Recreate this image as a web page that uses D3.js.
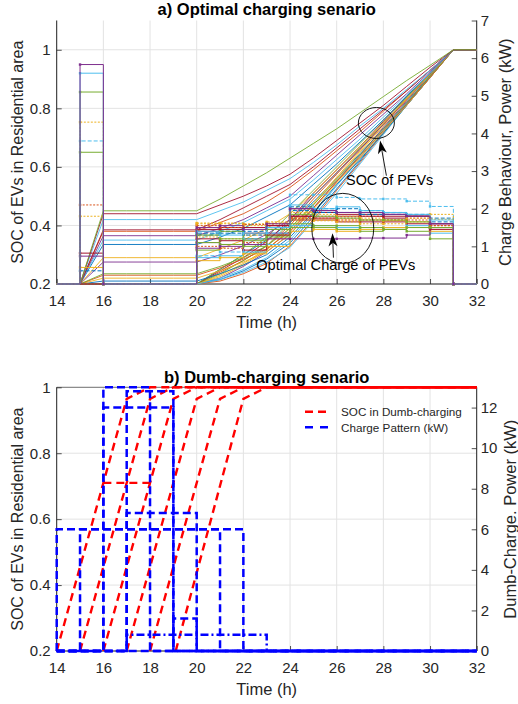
<!DOCTYPE html>
<html><head><meta charset="utf-8">
<script src="https://cdn.jsdelivr.net/npm/d3@7"></script>
<style>
body{margin:0;background:#fff;}
svg{display:block;font-family:"Liberation Sans",Arial,Helvetica,sans-serif;}
</style>
</head><body>
<svg id="c" width="518" height="704"></svg>
<script>
// ---------------- DATA ----------------
const hours = [14,15,16,17,18,19,20,21,22,23,24,25,26,27,28,29,30,31,32];
const xTicks = [14,16,18,20,22,24,26,28,30,32];
const socTicks1 = [0.2,0.4,0.6,0.8,1];
const powTicks1 = [0,1,2,3,4,5,6,7];
const socTicks2 = [0.2,0.4,0.6,0.8,1];
const powTicks2 = [0,2,4,6,8,10,12];

// a) optimal charging: SOC of EVs charged 15-16h
const socEarly = [
 [0.2,0.2,0.45,0.45,0.45,0.45,0.45,0.49,0.535,0.58,0.63,0.68,0.73,0.785,0.84,0.895,0.947,1,1],
 [0.2,0.2,0.44,0.44,0.44,0.44,0.44,0.47,0.5,0.535,0.575,0.63,0.69,0.75,0.81,0.875,0.94,1,1],
 [0.2,0.2,0.42,0.42,0.42,0.42,0.42,0.45,0.48,0.52,0.56,0.615,0.675,0.74,0.8,0.865,0.93,1,1],
 [0.2,0.2,0.385,0.385,0.385,0.385,0.385,0.42,0.46,0.5,0.54,0.6,0.665,0.73,0.795,0.86,0.93,1,1],
 [0.2,0.2,0.38,0.38,0.38,0.38,0.38,0.41,0.44,0.48,0.53,0.59,0.655,0.72,0.79,0.86,0.93,1,1],
 [0.2,0.2,0.365,0.365,0.365,0.365,0.365,0.39,0.42,0.46,0.5,0.57,0.64,0.71,0.78,0.85,0.925,1,1],
 [0.2,0.2,0.35,0.35,0.35,0.35,0.35,0.38,0.41,0.45,0.49,0.555,0.625,0.695,0.77,0.845,0.92,1,1],
 [0.2,0.2,0.335,0.335,0.335,0.335,0.335,0.36,0.39,0.43,0.47,0.54,0.61,0.685,0.76,0.84,0.92,1,1],
 [0.2,0.2,0.29,0.29,0.29,0.29,0.29,0.32,0.35,0.39,0.44,0.51,0.59,0.67,0.75,0.83,0.915,1,1],
 [0.2,0.2,0.275,0.275,0.275,0.275,0.275,0.3,0.33,0.37,0.42,0.5,0.58,0.66,0.745,0.83,0.915,1,1],
 [0.2,0.2,0.235,0.235,0.235,0.235,0.235,0.26,0.29,0.33,0.39,0.47,0.555,0.64,0.73,0.82,0.91,1,1],
 [0.2,0.2,0.23,0.23,0.23,0.23,0.23,0.255,0.285,0.32,0.38,0.46,0.55,0.635,0.725,0.815,0.905,1,1],
 [0.2,0.2,0.22,0.22,0.22,0.22,0.22,0.245,0.275,0.31,0.37,0.455,0.545,0.63,0.72,0.81,0.905,1,1],
 [0.2,0.2,0.21,0.21,0.21,0.21,0.21,0.235,0.265,0.3,0.36,0.445,0.54,0.625,0.715,0.81,0.905,1,1]
];
const socEarlyColors = ["#77AC30","#A2142F","#4DBEEE","#A2142F","#D95319","#7E2F8E","#4DBEEE","#0072BD","#EDB120","#7E2F8E","#77AC30","#D95319","#EDB120","#0072BD"];
// a) optimal charging: SOC of EVs starting at 20h
const socLate = [
 [0.2,0.2,0.2,0.2,0.2,0.2,0.2,0.25,0.3,0.35,0.41,0.48,0.56,0.645,0.73,0.82,0.91,1,1],
 [0.2,0.2,0.2,0.2,0.2,0.2,0.2,0.24,0.28,0.33,0.4,0.49,0.575,0.66,0.745,0.83,0.915,1,1],
 [0.2,0.2,0.2,0.2,0.2,0.2,0.2,0.23,0.27,0.32,0.38,0.47,0.56,0.65,0.74,0.83,0.915,1,1],
 [0.2,0.2,0.2,0.2,0.2,0.2,0.2,0.22,0.26,0.31,0.37,0.46,0.55,0.64,0.735,0.825,0.915,1,1],
 [0.2,0.2,0.2,0.2,0.2,0.2,0.2,0.235,0.28,0.33,0.41,0.5,0.58,0.665,0.75,0.835,0.92,1,1],
 [0.2,0.2,0.2,0.2,0.2,0.2,0.2,0.22,0.25,0.29,0.35,0.44,0.535,0.63,0.725,0.82,0.91,1,1],
 [0.2,0.2,0.2,0.2,0.2,0.2,0.2,0.245,0.29,0.345,0.42,0.51,0.59,0.67,0.755,0.84,0.92,1,1],
 [0.2,0.2,0.2,0.2,0.2,0.2,0.2,0.215,0.245,0.285,0.34,0.43,0.525,0.62,0.72,0.815,0.91,1,1],
 [0.2,0.2,0.2,0.2,0.2,0.2,0.2,0.21,0.235,0.27,0.33,0.42,0.52,0.615,0.715,0.81,0.905,1,1],
 [0.2,0.2,0.2,0.2,0.2,0.2,0.2,0.225,0.265,0.315,0.39,0.475,0.565,0.655,0.745,0.835,0.92,1,1],
 [0.2,0.2,0.2,0.2,0.2,0.2,0.2,0.25,0.3,0.36,0.44,0.52,0.6,0.68,0.76,0.84,0.92,1,1],
 [0.2,0.2,0.2,0.2,0.2,0.2,0.2,0.215,0.24,0.275,0.325,0.415,0.51,0.61,0.71,0.81,0.905,1,1]
];
const socLateColors = ["#0072BD","#D95319","#EDB120","#7E2F8E","#77AC30","#4DBEEE","#A2142F","#0072BD","#D95319","#EDB120","#77AC30","#4DBEEE"];
// a) optimal charge power (kW), value held from each hour to the next
const powOpt = [
 [0,5.83,0,0,0,0,1.5,1.55,1.45,1.6,2.0,1.95,1.9,1.9,1.85,1.8,1.6,0,0],
 [0,5.6,0,0,0,0,1.4,1.3,1.35,1.5,2.1,2.0,2.05,1.95,1.9,1.85,1.7,0,0],
 [0,5.1,0,0,0,0,1.1,1.2,1.0,1.25,1.85,1.8,1.75,1.7,1.7,1.65,1.5,0,0],
 [0,4.3,0,0,0,0,1.62,1.6,1.55,1.65,1.9,1.85,1.8,1.75,1.7,1.75,1.85,0,0],
 [0,3.8,0,0,0,0,0.75,0.85,1.2,1.35,2.37,2.37,2.3,2.26,2.26,2.2,2.06,0,0],
 [0,3.5,0,0,0,0,1.3,1.4,1.2,1.45,1.6,1.55,1.55,1.5,1.45,1.5,1.5,0,0],
 [0,2.1,0,0,0,0,1.55,1.5,1.58,1.6,1.75,1.75,1.7,1.7,1.7,1.7,1.55,0,0],
 [0,1.8,0,0,0,0,1.6,1.62,1.6,1.62,1.7,1.68,1.7,1.7,1.68,1.65,1.72,0,0],
 [0,0.82,0,0,0,0,1.2,1.15,0.9,1.3,1.8,1.75,1.8,1.8,1.75,1.8,1.45,0,0],
 [0,0.74,0,0,0,0,0.95,1.0,1.05,1.2,1.2,1.2,1.2,1.22,1.22,1.3,1.5,0,0],
 [0,0.44,0,0,0,0,0.62,0.7,0.8,1.0,1.4,1.45,1.4,1.45,1.5,1.5,1.4,0,0],
 [0,0.35,0,0,0,0,1.3,1.35,1.4,1.5,1.95,1.9,1.9,1.85,1.85,1.8,1.65,0,0],
 [0,0,0,0,0,0,1.45,1.5,1.35,1.55,1.8,1.9,1.85,1.85,1.8,1.8,1.6,0,0],
 [0,0,0,0,0,0,1.0,0.95,1.1,1.2,1.75,1.8,1.75,1.8,1.7,1.75,1.55,0,0],
 [0,0,0,0,0,0,0.9,1.05,1.15,1.3,1.5,1.5,1.45,1.4,1.45,1.4,1.2,0,0],
 [0,0,0,0,0,0,0.7,0.75,0.85,1.05,1.55,1.55,1.5,1.5,1.5,1.55,1.35,0,0],
 [0,0,0,0,0,0,1.35,1.4,1.3,1.45,2.05,2.0,2.0,1.95,1.9,1.85,1.75,0,0],
 [0,0,0,0,0,0,1.1,1.05,1.2,1.35,2.0,1.95,1.9,1.9,1.85,1.8,1.6,0,0],
 [0,0,0,0,0,0,1.25,1.2,1.3,1.45,1.75,1.7,1.65,1.6,1.6,1.65,1.5,0,0],
 [0,0,0,0,0,0,1.4,1.45,1.5,1.55,1.7,1.7,1.65,1.65,1.65,1.6,1.5,0,0]
];
const powColors = ["#7E2F8E","#4DBEEE","#77AC30","#EDB120","#4DBEEE","#77AC30","#D95319","#EDB120","#A2142F","#7E2F8E","#EDB120","#0072BD","#A2142F","#D95319","#77AC30","#4DBEEE","#0072BD","#7E2F8E","#EDB120","#A2142F"];
const powDash = ["","","","2,1.5","4,2","","2,1.5","2,1.5","","","","4,2","","2,1.5","","","4,2","","2,1.5",""];

// b) dumb charging: SOC polylines [hour, soc]
const socDumb = [
 [[14,0.2],[17,0.965],[18,1],[32,1]],
 [[15,0.2],[18,0.965],[19,1],[32,1]],
 [[16,0.2],[19,0.965],[20,1],[32,1]],
 [[17,0.2],[20,0.965],[21,1],[32,1]],
 [[18,0.2],[21,0.965],[22,1],[32,1]],
 [[19.1,0.2],[22,0.965],[23,1],[32,1]],
 [[16,0.71],[18,0.71]]
];
// b) dumb charge pattern (kW) per hour 14..32
const powDumb = [
 [6,6,6,6,6,6,6,6,0,0,0,0,0,0,0,0,0,0,0],
 [0,6,6,6,6,6,6,0,0,0,0,0,0,0,0,0,0,0,0],
 [0,0,13,13,0,0,0,0,0,0,0,0,0,0,0,0,0,0,0],
 [0,0,12,12,12,0,0,0,0,0,0,0,0,0,0,0,0,0,0],
 [0,0,0,12.8,12.8,0,0,0,0,0,0,0,0,0,0,0,0,0,0],
 [0,0,0,6.8,6.8,6.8,0,0,0,0,0,0,0,0,0,0,0,0,0],
 [0,0,0,0.8,0.8,0.8,0.8,0.8,0.8,0,0,0,0,0,0,0,0,0,0],
 [0,0,0,0,0,1.6,0,0,0,0,0,0,0,0,0,0,0,0,0]
];
const powDumbDash = ["8,4","8,4","8,4","8,4","8,4","8,4","8,3,2,3","8,4"];

// ---------------- DRAW ----------------
const svg = d3.select("#c");
const X0 = 56.7, X1 = 476.7;
const AX = "#262626", GRID = "#e3e3e3";
const x = d3.scaleLinear([14,32],[X0,X1]);

function frame(top, bottom, yL, lTicks, title, titleY, rLabel, rLabelX){
  const g = svg.append("g");
  g.selectAll(null).data(xTicks).join("line")
    .attr("x1",d=>x(d)).attr("x2",d=>x(d)).attr("y1",top).attr("y2",bottom)
    .attr("stroke",GRID).attr("stroke-width",1);
  g.selectAll(null).data(lTicks).join("line")
    .attr("x1",X0).attr("x2",X1).attr("y1",d=>yL(d)).attr("y2",d=>yL(d))
    .attr("stroke",GRID).attr("stroke-width",1);
  svg.append("text").attr("x",(X0+X1)/2).attr("y",titleY).attr("text-anchor","middle")
    .attr("font-weight","bold").attr("font-size",16.5).attr("fill","#000").text(title);
  svg.append("text").attr("transform",`translate(17.5,${(top+bottom)/2}) rotate(-90)`)
    .attr("text-anchor","middle").attr("dominant-baseline","central")
    .attr("font-size",16).attr("fill",AX).text("SOC of EVs in Residential area");
  svg.append("text").attr("transform",`translate(${rLabelX},${(top+bottom)/2}) rotate(-90)`)
    .attr("text-anchor","middle").attr("dominant-baseline","central")
    .attr("font-size",16.5).attr("fill",AX).text(rLabel);
  svg.append("text").attr("x",(X0+X1)/2).attr("y",bottom+43.5).attr("text-anchor","middle")
    .attr("font-size",16.5).attr("fill",AX).text("Time (h)");
  return g;
}
function axes(top,bottom,yL,yR,lTicks,rTicks,hasTop){
  const fmt = d3.format("~g");
  const ax = svg.append("g");
  ax.append("g").attr("transform",`translate(0,${bottom})`)
    .call(d3.axisBottom(x).tickValues(xTicks).tickSizeInner(-5).tickSizeOuter(0).tickPadding(11).tickFormat(fmt));
  ax.append("g").attr("transform",`translate(${X0},0)`)
    .call(d3.axisLeft(yL).tickValues(lTicks).tickSizeInner(-5).tickSizeOuter(0).tickPadding(6).tickFormat(fmt));
  ax.append("g").attr("transform",`translate(${X1},0)`)
    .call(d3.axisRight(yR).tickValues(rTicks).tickSizeInner(-5).tickSizeOuter(0).tickPadding(4).tickFormat(fmt));
  ax.selectAll("path.domain").remove();
  ax.selectAll(".tick line").attr("stroke",AX).attr("stroke-width",0.8);
  ax.selectAll(".tick text").attr("fill",AX).attr("font-family","'Liberation Sans',Arial,sans-serif").attr("font-size",15);
  ax.append("line").attr("x1",X0).attr("x2",X0).attr("y1",top).attr("y2",bottom).attr("stroke",AX);
  ax.append("line").attr("x1",X1).attr("x2",X1).attr("y1",top).attr("y2",bottom).attr("stroke",AX);
  ax.append("line").attr("x1",X0).attr("x2",X1).attr("y1",bottom).attr("y2",bottom).attr("stroke",AX);
  if(hasTop) ax.append("line").attr("x1",X0).attr("x2",X1).attr("y1",top).attr("y2",top).attr("stroke",AX).attr("stroke-width",0.6);
}
function clip(id, top, bottom){
  svg.append("clipPath").attr("id",id).append("rect")
    .attr("x",X0-2).attr("y",top-2).attr("width",X1-X0+4).attr("height",bottom-top+4);
}

// ===== Panel a =====
const T1 = 20.5, B1 = 284;
const yL1 = d3.scaleLinear([0.2,1.1],[B1,T1]);
const yR1 = d3.scaleLinear([0,7],[B1,T1]);
frame(T1,B1,yL1,socTicks1,"a) Optimal charging senario",15,"Charge Behaviour, Power (kW)",505);
axes(T1,B1,yL1,yR1,socTicks1,powTicks1,false);
clip("ca",T1,B1);
const pa = svg.append("g").attr("clip-path","url(#ca)");

// SOC lines (left axis)
const socLine = d3.line().x((d,i)=>x(hours[i])).y(d=>yL1(d));
socLate.forEach((vals,k)=>{
  pa.append("path").attr("d",socLine(vals)).attr("fill","none")
    .attr("stroke",socLateColors[k]).attr("stroke-width",0.9);
});
socEarly.slice().reverse().forEach((vals,j)=>{
  const k = socEarly.length-1-j;
  pa.append("path").attr("d",socLine(vals)).attr("fill","none")
    .attr("stroke",socEarlyColors[k]).attr("stroke-width",0.9);
});
// power step lines (right axis)
const stepLine = d3.line().curve(d3.curveStepAfter).x(d=>x(d[0])).y(d=>yR1(d[1]));
powOpt.slice().reverse().forEach((vals,j)=>{
  const k = powOpt.length-1-j;
  const pts = [[hours[0],0]].concat(hours.map((h,i)=>[h,vals[i]]));
  pa.append("path").attr("d",stepLine(pts)).attr("fill","none")
    .attr("stroke",powColors[k]).attr("stroke-width",1)
    .attr("stroke-dasharray",powDash[k]||null);
  const mk = hours.map((h,i)=>[h,vals[i]]).filter((d,i)=>d[1]>0 || (i>0 && vals[i-1]>0));
  pa.selectAll(null).data(mk).join("rect")
    .attr("x",d=>x(d[0])-1.2).attr("y",d=>yR1(d[1])-1.2).attr("width",2.4).attr("height",2.4)
    .attr("fill",powColors[k]);
});

// annotations (data coordinates)
function arrow(g,tx,ty,hx,hy){
  const ang = Math.atan2(hy-ty,hx-tx), L=13, W=4.5, back=3.5;
  const c=Math.cos(ang), s=Math.sin(ang);
  const bx = hx - L*c, by = hy - L*s;
  g.append("line").attr("x1",tx).attr("y1",ty).attr("x2",bx+back*c).attr("y2",by+back*s)
    .attr("stroke","#000").attr("stroke-width",0.9);
  const p = [[hx,hy],[bx - W*s, by + W*c],[bx+back*c, by+back*s],[bx + W*s, by - W*c]];
  g.append("path").attr("d","M"+p.map(d=>d.join(",")).join("L")+"Z").attr("fill","#000");
}
const ann = svg.append("g");
ann.append("ellipse").attr("cx",x(27.7)).attr("cy",yL1(0.75)).attr("rx",18).attr("ry",15.5)
  .attr("fill","none").attr("stroke","#000").attr("stroke-width",0.9);
arrow(ann, x(28.13), yL1(0.57), x(27.86), yL1(0.69));
ann.append("text").attr("x",x(28.27)).attr("y",yL1(0.556)).attr("text-anchor","middle")
  .attr("dominant-baseline","central").attr("font-size",14.4).attr("fill","#000").text("SOC of PEVs");
ann.append("ellipse").attr("cx",x(26.26)).attr("cy",yL1(0.39)).attr("rx",31).attr("ry",35)
  .attr("fill","none").attr("stroke","#000").attr("stroke-width",0.9);
arrow(ann, x(25.86), yL1(0.29), x(25.82), yL1(0.373));
ann.append("text").attr("x",x(25.96)).attr("y",yL1(0.265)).attr("text-anchor","middle")
  .attr("dominant-baseline","central").attr("font-size",14.6).attr("fill","#000").text("Optimal Charge of PEVs");

// ===== Panel b =====
const T2 = 387.3, B2 = 651;
const yL2 = d3.scaleLinear([0.2,1],[B2,T2]);
const yR2 = d3.scaleLinear([0,13],[B2,T2]);
frame(T2,B2,yL2,socTicks2,"b) Dumb-charging senario",382.5,"Dumb-Charge. Power (kW)",510);
axes(T2,B2,yL2,yR2,socTicks2,powTicks2,true);
clip("cb",T2,B2);
const pb = svg.append("g").attr("clip-path","url(#cb)");
const socLine2 = d3.line().x(d=>x(d[0])).y(d=>yL2(d[1]));
socDumb.forEach(pts=>{
  pb.append("path").attr("d",socLine2(pts)).attr("fill","none")
    .attr("stroke","#FF0000").attr("stroke-width",2.4).attr("stroke-dasharray","8,5");
});
const stepLine2 = d3.line().curve(d3.curveStepAfter).x(d=>x(d[0])).y(d=>yR2(d[1]));
powDumb.forEach((vals,k)=>{
  const pts = [[hours[0],0]].concat(hours.map((h,i)=>[h,vals[i]]));
  pb.append("path").attr("d",stepLine2(pts)).attr("fill","none")
    .attr("stroke","#0000FF").attr("stroke-width",2.5)
    .attr("stroke-dasharray",powDumbDash[k]);
});

// legend
const lg = svg.append("g").attr("font-size",11.7).attr("fill",AX);
const legItems = [["SOC in Dumb-charging","#FF0000","8,5"],["Charge Pattern (kW)","#0000FF","8,7,8"]];
legItems.forEach((d,i)=>{
  const yy = 411.7 + i*15.6;
  lg.append("line").attr("x1",305).attr("x2",330).attr("y1",yy).attr("y2",yy)
    .attr("stroke",d[1]).attr("stroke-width",2.4).attr("stroke-dasharray",d[2]);
  lg.append("text").attr("x",341).attr("y",yy).attr("dominant-baseline","central").text(d[0]);
});
</script>
</body></html>
